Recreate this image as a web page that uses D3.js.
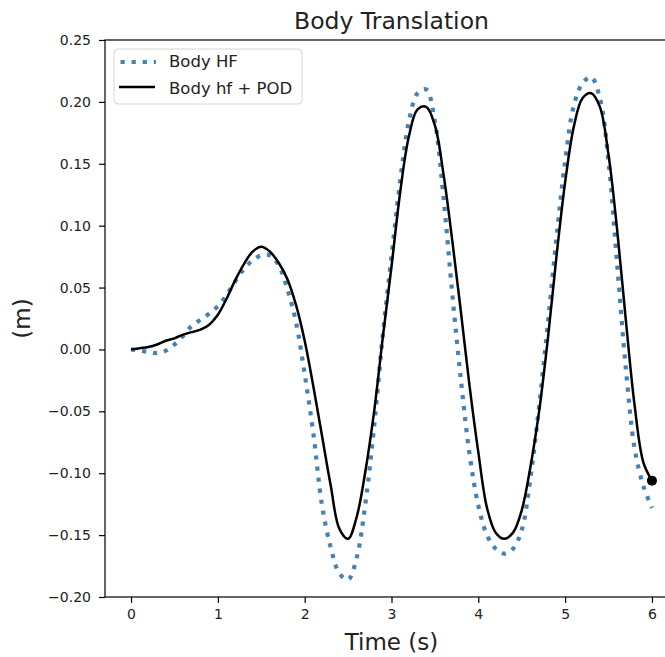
<!DOCTYPE html>
<html>
<head>
<meta charset="utf-8">
<script src="https://cdn.jsdelivr.net/npm/d3@7"></script>
<style>
  html, body { margin: 0; padding: 0; background: #ffffff; }
  svg { display: block; font-family: "DejaVu Sans", sans-serif; }
</style>
</head>
<body>
<svg id="chart" width="665" height="657"></svg>
<script>
// ---- data ----
const time = [0.0,0.1,0.2,0.3,0.4,0.5,0.6,0.7,0.8,0.9,
              1.0,1.1,1.2,1.3,1.4,1.5,1.6,1.7,1.8,1.9,
              2.0,2.1,2.2,2.3,2.4,2.5,2.6,2.7,2.8,2.9,
              3.0,3.1,3.2,3.3,3.4,3.5,3.6,3.7,3.8,3.9,
              4.0,4.1,4.2,4.3,4.4,4.5,4.6,4.7,4.8,4.9,
              5.0,5.1,5.2,5.3,5.4,5.5,5.6,5.7,5.8,5.9,6.0];

const bodyHF = [0.000,-0.001,-0.002,-0.003,-0.001,0.004,0.011,0.019,0.024,0.029,
                0.035,0.044,0.055,0.065,0.072,0.076,0.076,0.068,0.049,0.022,
                -0.020,-0.068,-0.126,-0.160,-0.181,-0.186,-0.168,-0.124,-0.062,0.012,
                0.075,0.136,0.184,0.207,0.210,0.184,0.122,0.045,-0.025,-0.085,
                -0.126,-0.150,-0.161,-0.165,-0.161,-0.146,-0.104,-0.046,0.020,0.090,
                0.152,0.197,0.215,0.220,0.203,0.152,0.068,-0.016,-0.080,-0.110,-0.128];

const bodyPOD = [0.000,0.001,0.002,0.004,0.007,0.009,0.012,0.014,0.016,0.020,
                 0.028,0.041,0.056,0.069,0.079,0.083,0.079,0.070,0.057,0.036,
                 0.007,-0.030,-0.070,-0.110,-0.145,-0.153,-0.135,-0.098,-0.050,0.010,
                 0.067,0.127,0.172,0.194,0.196,0.181,0.141,0.088,0.030,-0.030,
                 -0.083,-0.128,-0.148,-0.153,-0.148,-0.130,-0.095,-0.050,0.008,0.075,
                 0.135,0.180,0.203,0.207,0.196,0.157,0.096,0.023,-0.045,-0.091,-0.106];

const xTicks = [0, 1, 2, 3, 4, 5, 6];
const yTicks = [-0.20, -0.15, -0.10, -0.05, 0.00, 0.05, 0.10, 0.15, 0.20, 0.25];
const seriesNames = ["Body HF", "Body hf + POD"];
const titleText = "Body Translation";
const xLabel = "Time (s)";
const yLabel = "(m)";

// ---- layout ----
const svg = d3.select("#chart");
const plot = { left: 105, right: 678, top: 40, bottom: 597 };
const hfColor = "#4682b4";

const x = d3.scaleLinear().domain([-0.3, 6.3]).range([plot.left, plot.right]);
const y = d3.scaleLinear().domain([-0.20, 0.25]).range([plot.bottom, plot.top]);

const fmtY = v => d3.format(".2f")(v).replace("-", "\u2212");

// axes
const xAxis = svg.append("g")
  .attr("transform", `translate(0,${plot.bottom})`)
  .call(d3.axisBottom(x).tickValues(xTicks).tickFormat(d3.format("d")).tickSize(6).tickPadding(6));
const yAxis = svg.append("g")
  .attr("transform", `translate(${plot.left},0)`)
  .call(d3.axisLeft(y).tickValues(yTicks).tickFormat(fmtY).tickSize(6).tickPadding(8));

[xAxis, yAxis].forEach(g => {
  g.select(".domain").remove();
  g.selectAll(".tick line").attr("stroke", "#000").attr("stroke-width", 1.2);
  g.selectAll(".tick text").attr("fill", "#222").style("font-size", "14px")
    .style("font-family", "DejaVu Sans, sans-serif");
});

// frame
svg.append("rect")
  .attr("x", plot.left).attr("y", plot.top)
  .attr("width", plot.right - plot.left).attr("height", plot.bottom - plot.top)
  .attr("fill", "none").attr("stroke", "#000").attr("stroke-width", 1.2);

// lines
const hfData = time.map((t, i) => [t, bodyHF[i]]);
const podData = time.map((t, i) => [t, bodyPOD[i]]);
const line = d3.line().x(d => x(d[0])).y(d => y(d[1])).curve(d3.curveCatmullRom.alpha(0.5));

svg.append("path").datum(hfData)
  .attr("d", line)
  .attr("fill", "none").attr("stroke", hfColor).attr("stroke-width", 4.2)
  .attr("stroke-dasharray", "4.2,6.9");

svg.append("path").datum(podData)
  .attr("d", line)
  .attr("fill", "none").attr("stroke", "#000").attr("stroke-width", 2.5)
  .attr("stroke-linejoin", "round");

// end marker
const last = podData[podData.length - 1];
svg.append("circle").attr("cx", x(last[0])).attr("cy", y(last[1])).attr("r", 5).attr("fill", "#000");

// title and labels
svg.append("text").attr("x", (plot.left + plot.right) / 2).attr("y", 29)
  .attr("text-anchor", "middle").style("font-size", "23.5px").attr("fill", "#222").text(titleText);
svg.append("text").attr("x", (plot.left + plot.right) / 2).attr("y", 650)
  .attr("text-anchor", "middle").style("font-size", "23px").attr("fill", "#222").text(xLabel);
svg.append("text").attr("transform", `translate(30,${(plot.top + plot.bottom) / 2}) rotate(-90)`)
  .attr("text-anchor", "middle").style("font-size", "23px").attr("fill", "#222").text(yLabel);

// legend
const lg = svg.append("g");
lg.append("rect").attr("x", 114).attr("y", 49).attr("width", 188).attr("height", 55)
  .attr("rx", 4).attr("fill", "#fff").attr("fill-opacity", 0.8)
  .attr("stroke", "#d6d6d6").attr("stroke-width", 1);
lg.append("line").attr("x1", 119).attr("x2", 156).attr("y1", 62).attr("y2", 62)
  .attr("stroke", hfColor).attr("stroke-width", 4.2).attr("stroke-dasharray", "4.2,6.9")
  .attr("stroke-dashoffset", -1.5);
lg.append("line").attr("x1", 119).attr("x2", 155).attr("y1", 87).attr("y2", 87)
  .attr("stroke", "#000").attr("stroke-width", 2.5);
lg.append("text").attr("x", 169).attr("y", 67).style("font-size", "16.5px").attr("fill", "#222").text(seriesNames[0]);
lg.append("text").attr("x", 169).attr("y", 94).style("font-size", "16.5px").attr("fill", "#222").text(seriesNames[1]);
</script>
</body>
</html>
